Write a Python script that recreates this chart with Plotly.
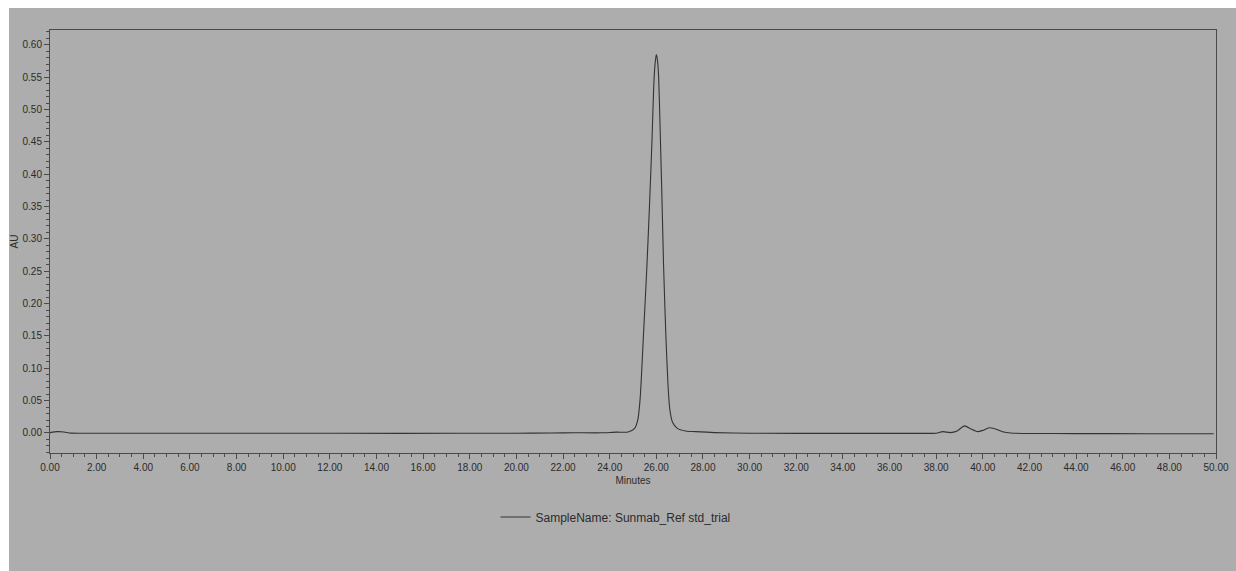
import plotly.graph_objects as go

# Chromatogram (time in minutes, absorbance in AU)
time_min = [0.00, 0.30, 0.60, 0.90, 2.0, 5.0, 10.0, 15.0, 20.0, 21.5, 22.5, 23.6, 24.3,
            24.79, 25.07, 25.21, 25.31, 25.45, 25.59, 25.71, 25.82, 25.89, 25.95,
            26.00, 26.05, 26.10, 26.16, 26.24, 26.31, 26.41, 26.50, 26.58, 26.69, 26.90,
            27.25, 27.67, 28.50, 30.0, 34.0, 37.5, 38.0, 38.28, 38.60, 38.90, 39.21,
            39.50, 39.77, 40.00, 40.27, 40.55, 40.85, 41.20, 42.0, 44.0, 47.0, 49.9]
au = [0.0005, 0.002, 0.0015, -0.0003, -0.0005, -0.0005, -0.0005, -0.0006, -0.0004, 0.0000, 0.0003, 0.0002, 0.0012,
      0.0015, 0.007, 0.021, 0.055, 0.152, 0.253, 0.354, 0.458, 0.537, 0.572,
      0.585, 0.576, 0.550, 0.475, 0.365, 0.260, 0.150, 0.075, 0.036, 0.017, 0.007,
      0.003, 0.002, 0.0005, -0.0005, -0.0006, -0.0006, -0.0004, 0.0020, 0.0005, 0.0030, 0.0110,
      0.0060, 0.0020, 0.0040, 0.0080, 0.0060, 0.0020, 0.0000, -0.0008, -0.0010, -0.0012, -0.0012]

series_name = "SampleName: Sunmab_Ref std_trial"
x_ticks = [i * 2 for i in range(26)]
y_ticks = [i * 0.05 for i in range(13)]

ink = "#2b2b2b"
paper_gray = "#adadad"

fig = go.Figure()
fig.add_trace(go.Scatter(
    x=time_min, y=au, mode="lines", name=series_name,
    line=dict(color="#333333", width=1.1, shape="spline", smoothing=0.6),
    showlegend=True,
))

L, R, T, B = 50, 20, 30, 118
W, H = 1236, 571
pw, ph = W - L - R, H - T - B

fig.update_layout(
    width=W, height=H,
    margin=dict(l=L, r=R, t=T, b=B, autoexpand=False),
    paper_bgcolor="white",
    plot_bgcolor=paper_gray,
    font=dict(family="Liberation Sans, Arial, sans-serif", color=ink, size=10),
    shapes=[dict(
        type="rect", xref="paper", yref="paper", layer="below",
        x0=(9 - L) / pw, x1=(W - L) / pw + 0.01,
        y0=-(B + 5) / ph, y1=(H - B - 8) / ph,
        fillcolor=paper_gray, line=dict(width=0),
    )],
    legend=dict(
        orientation="h", x=0.485, xanchor="center", y=-(517 - (H - B)) / ph,
        yanchor="middle", bgcolor="rgba(0,0,0,0)",
        font=dict(size=12, color=ink), itemwidth=30,
    ),
)

fig.update_xaxes(
    range=[0, 50], tickvals=x_ticks, ticktext=[f"{v:.2f}" for v in x_ticks],
    showline=True, linecolor="#4a4a4a", linewidth=1, mirror=True,
    ticks="outside", ticklen=5, tickcolor="#4a4a4a",
    minor=dict(dtick=0.5, ticks="outside", ticklen=3, tickcolor="#4a4a4a"),
    showgrid=False, zeroline=False,
    tickfont=dict(size=10, color=ink),
    title=dict(text="Minutes", font=dict(size=10, color=ink), standoff=4),
)
fig.update_yaxes(
    range=[-0.031, 0.623], tickvals=y_ticks, ticktext=[f"{v:.2f}" for v in y_ticks],
    showline=True, linecolor="#4a4a4a", linewidth=1, mirror=True,
    ticks="outside", ticklen=5, tickcolor="#4a4a4a",
    minor=dict(dtick=0.01, ticks="outside", ticklen=3, tickcolor="#4a4a4a"),
    showgrid=False, zeroline=False,
    tickfont=dict(size=10, color=ink),
    title=dict(text="AU", font=dict(size=10, color=ink), standoff=2),
)

fig.write_html("out.html")
